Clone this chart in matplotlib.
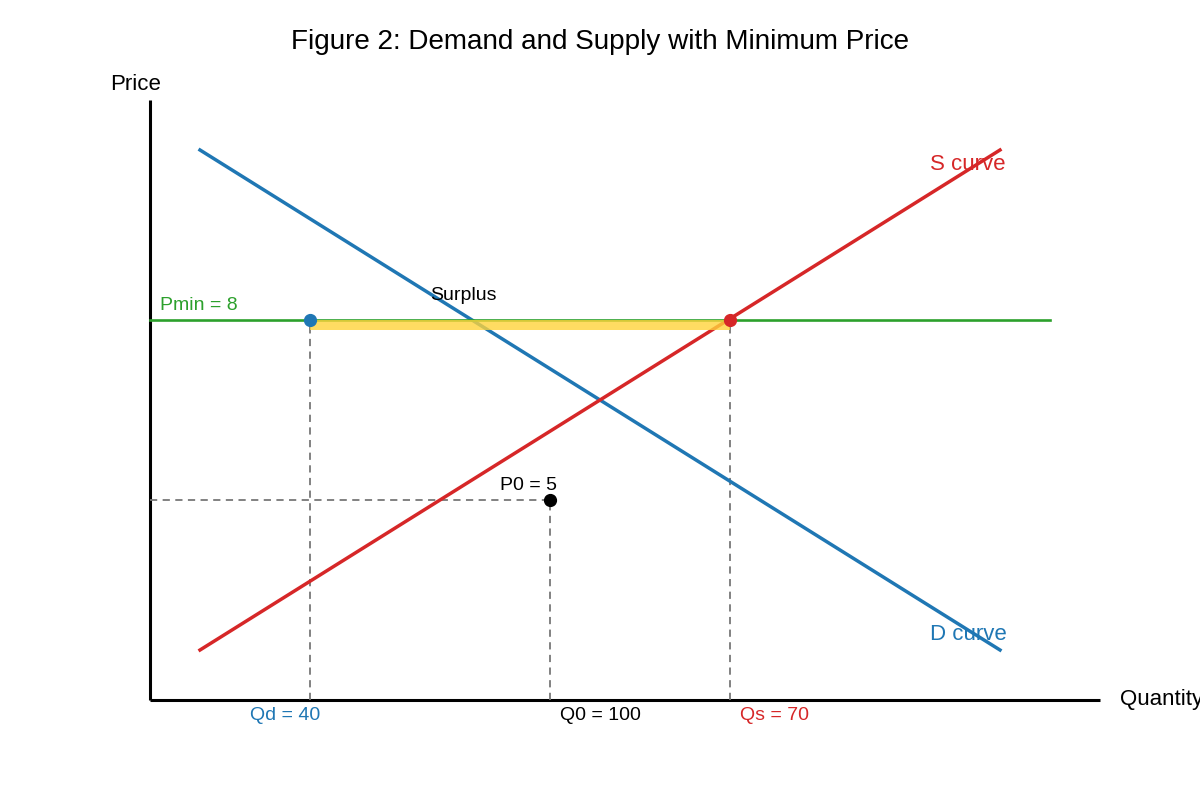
import matplotlib
matplotlib.use("Agg")
import matplotlib.pyplot as plt

plt.rcParams['font.family'] = ['Liberation Sans', 'DejaVu Sans']

# chart units: origin at the axes corner, quantity to the right, price up
demand_x = [50, 850]
demand_y = [550, 50]
supply_x = [50, 850]
supply_y = [50, 550]
pmin_y = 380
pmin_x = [0, 900]
qd_x = 160
qs_x = 580
q0_x = 400
p0_y = 200
surplus_band = [370, 380]

blue = '#1f77b4'
red = '#d62728'
green = '#2ca02c'

fig = plt.figure(figsize=(12, 8), dpi=100)
ax = fig.add_axes([0, 0, 1, 1])
ax.set_xlim(-150, 1050)
ax.set_ylim(-100, 700)
ax.axis('off')

# axes
ax.plot([0, 0], [0, 600], color='black', lw=2.2, solid_capstyle='butt')
ax.plot([0, 950], [0, 0], color='black', lw=2.2, solid_capstyle='butt')

# dashed guides
dash = dict(color='#777777', lw=1.3, ls=(0, (4, 3)))
ax.plot([qd_x, qd_x], [0, pmin_y], **dash)
ax.plot([qs_x, qs_x], [0, pmin_y], **dash)
ax.plot([0, q0_x], [p0_y, p0_y], **dash)
ax.plot([q0_x, q0_x], [0, p0_y], **dash)

# curves
ax.plot(demand_x, demand_y, color=blue, lw=2.5)
ax.plot(supply_x, supply_y, color=red, lw=2.5)
ax.plot(pmin_x, [pmin_y, pmin_y], color=green, lw=1.9)

# surplus band
ax.fill_between([qd_x, qs_x], surplus_band[0], surplus_band[1],
                color='#ffd43b', alpha=0.8, lw=0, zorder=4)

# points
ax.plot(qd_x, pmin_y, 'o', color=blue, ms=8.5, zorder=5)
ax.plot(qs_x, pmin_y, 'o', color=red, ms=8.5, zorder=5)
ax.plot(q0_x, p0_y, 'o', color='black', ms=8.5, zorder=5)

# labels
ax.text(450, 658, 'Figure 2: Demand and Supply with Minimum Price',
        fontsize=20.1, ha='center', va='center')
ax.text(-40, 616, 'Price', fontsize=16, ha='left', va='center')
ax.text(970, 0, 'Quantity', fontsize=16, ha='left', va='center')
ax.text(10, 395, 'Pmin = 8', fontsize=14, color=green, ha='left', va='center')
ax.text(280, 405, 'Surplus', fontsize=14, ha='left', va='center')
ax.text(350, 215, 'P0 = 5', fontsize=14, ha='left', va='center')
ax.text(780, 536, 'S curve', fontsize=16, color=red, ha='left', va='center')
ax.text(780, 66, 'D curve', fontsize=16, color=blue, ha='left', va='center')
ax.text(100, -15, 'Qd = 40', fontsize=14, color=blue, ha='left', va='center')
ax.text(410, -15, 'Q0 = 100', fontsize=14, color='black', ha='left', va='center')
ax.text(590, -15, 'Qs = 70', fontsize=14, color=red, ha='left', va='center')

fig.savefig('out.png', dpi=100)
